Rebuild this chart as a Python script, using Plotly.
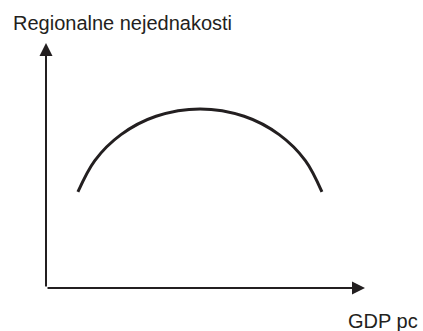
import plotly.graph_objects as go

# Kuznets-style inverted U (axis units 0..10)
gdp_pc = [1.00, 1.53, 2.35, 3.45, 4.83, 6.21, 7.31, 8.13, 8.65]
inequality = [3.92, 5.20, 6.26, 7.01, 7.31, 7.01, 6.26, 5.20, 3.92]

x_label = "GDP pc"
y_label = "Regionalne nejednakosti"
axis_max = 10

ink = "#231f20"
font = dict(family="Liberation Sans, Arial, sans-serif", size=20, color=ink)

fig = go.Figure()

# the curve
fig.add_trace(go.Scatter(
    x=gdp_pc,
    y=inequality,
    mode="lines",
    line=dict(color=ink, width=3, shape="spline", smoothing=1.0),
    hoverinfo="skip",
    showlegend=False
))

# axis arrows
fig.add_annotation(x=0, y=axis_max, ax=0, ay=0, xref="x", yref="y",
                   axref="x", ayref="y", text="", showarrow=True,
                   arrowhead=2, arrowsize=1.3, arrowwidth=2, arrowcolor=ink,
                   standoff=0, startstandoff=0)
fig.add_annotation(x=axis_max, y=0, ax=0, ay=0, xref="x", yref="y",
                   axref="x", ayref="y", text="", showarrow=True,
                   arrowhead=2, arrowsize=1.3, arrowwidth=2, arrowcolor=ink,
                   standoff=0, startstandoff=0)

# axis titles
fig.add_annotation(x=0, y=1, xref="paper", yref="paper", text=y_label,
                   showarrow=False, xanchor="left", yanchor="middle",
                   xshift=-35, yshift=20, font=font)
fig.add_annotation(x=1, y=0, xref="paper", yref="paper", text=x_label,
                   showarrow=False, xanchor="center", yanchor="middle",
                   xshift=18, yshift=-33, font=font)

fig.update_layout(
    width=423,
    height=331,
    margin=dict(l=46, r=58, t=43, b=43),
    paper_bgcolor="white",
    plot_bgcolor="white",
    xaxis=dict(range=[0, axis_max], visible=False, fixedrange=True),
    yaxis=dict(range=[0, axis_max], visible=False, fixedrange=True),
)

fig.write_html("out.html", config=dict(displayModeBar=False),
               post_script="document.body.style.margin='0';")
